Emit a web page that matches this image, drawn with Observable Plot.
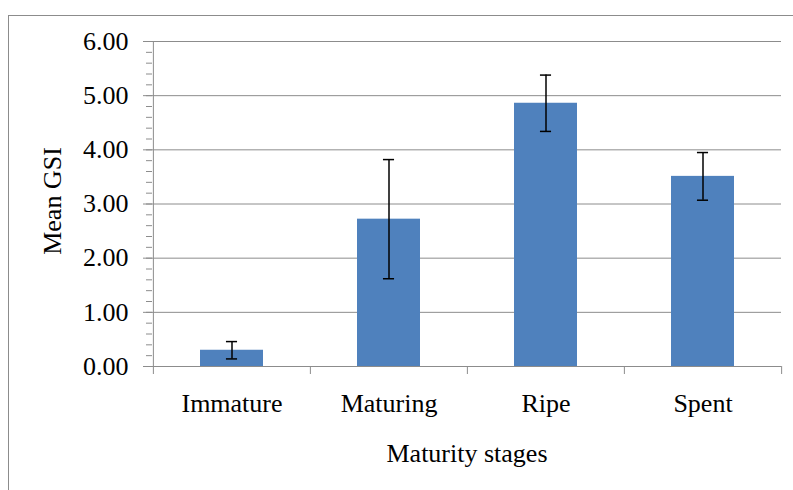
<!DOCTYPE html>
<html>
<head>
<meta charset="utf-8">
<script src="https://cdn.jsdelivr.net/npm/d3@7"></script>
<script src="https://cdn.jsdelivr.net/npm/@observablehq/plot@0.6"></script>
<style>
  html, body { margin: 0; padding: 0; background: #fff; }
  #wrap { position: relative; width: 793px; height: 490px; overflow: hidden; }
  #border { position: absolute; left: 8px; top: 15px; width: 900px; height: 600px;
            border-left: 1px solid #8c8c8c; border-top: 1px solid #8c8c8c; pointer-events: none; }
  svg { display: block; }
</style>
</head>
<body>
<div id="wrap"><div id="border"></div></div>
<script>
const categories = ["Immature", "Maturing", "Ripe", "Spent"];
const means = [0.30, 2.72, 4.86, 3.51];
const errors = [0.16, 1.10, 0.52, 0.44];
const yTicks = [0, 1, 2, 3, 4, 5, 6];
const xTitle = "Maturity stages";
const yTitle = "Mean GSI";

const data = categories.map((c, i) => ({stage: c, mean: means[i], err: errors[i]}));

const W = 793, H = 490, mL = 152, mR = 12, mT = 41, mB = 124;
const step = (W - mL - mR) / categories.length;
const bandw = step * 0.4;
const capW = 11;
const grid = "#8c8c8c";
const font = "'Liberation Serif', 'Times New Roman', serif";

const chart = Plot.plot({
  width: W, height: H,
  marginLeft: mL, marginRight: mR, marginTop: mT, marginBottom: mB,
  style: {fontFamily: font, fontSize: "26px", color: "#000", background: "transparent"},
  x: {domain: categories, paddingInner: 0.6, paddingOuter: 0.3, label: null},
  y: {domain: [0, 6], label: null},
  marks: [
    Plot.gridY(yTicks.slice(1), {stroke: grid, strokeOpacity: 1, strokeWidth: 1}),
    Plot.ruleY([0], {stroke: grid, strokeWidth: 1}),
    // left axis line
    Plot.ruleX([categories[0]], {dx: -step / 2, y1: 6, y2: 0, insetBottom: -8, stroke: grid}),
    // category boundary ticks
    Plot.ruleX(categories.slice(1), {dx: -step / 2, y1: 0, y2: 0, insetBottom: -8, stroke: grid}),
    Plot.ruleX([categories[categories.length - 1]], {dx: step / 2, y1: 0, y2: 0, insetBottom: -8, stroke: grid}),
    Plot.axisY({ticks: 30, tickSize: 6, text: null, stroke: grid}),
    Plot.axisY({ticks: yTicks, tickSize: 9, tickPadding: 15, tickFormat: d3.format(".2f"), stroke: grid, fill: "#000", fontSize: 26, label: null}),
    Plot.axisX({tickSize: 0, tickPadding: 27, fill: "#000", fontSize: 26, label: null}),
    Plot.barY(data, {x: "stage", y: "mean", fill: "#4F81BD"}),
    Plot.ruleX(data, {x: "stage", y1: d => d.mean - d.err, y2: d => d.mean + d.err, stroke: "#000", strokeWidth: 1.5}),
    Plot.tickY(data, {x: "stage", y: d => d.mean + d.err, stroke: "#000", strokeWidth: 1.5, insetLeft: (bandw - capW) / 2, insetRight: (bandw - capW) / 2}),
    Plot.tickY(data, {x: "stage", y: d => d.mean - d.err, stroke: "#000", strokeWidth: 1.5, insetLeft: (bandw - capW) / 2, insetRight: (bandw - capW) / 2}),
    Plot.text([xTitle], {frameAnchor: "bottom", dy: 87, lineAnchor: "middle", textAnchor: "middle", fontSize: 26, fill: "#000"}),
    Plot.text([yTitle], {frameAnchor: "left", dx: -100, dy: -3, rotate: -90, lineAnchor: "middle", textAnchor: "middle", fontSize: 26, fill: "#000"})
  ]
});
document.getElementById("wrap").prepend(chart);
</script>
</body>
</html>
